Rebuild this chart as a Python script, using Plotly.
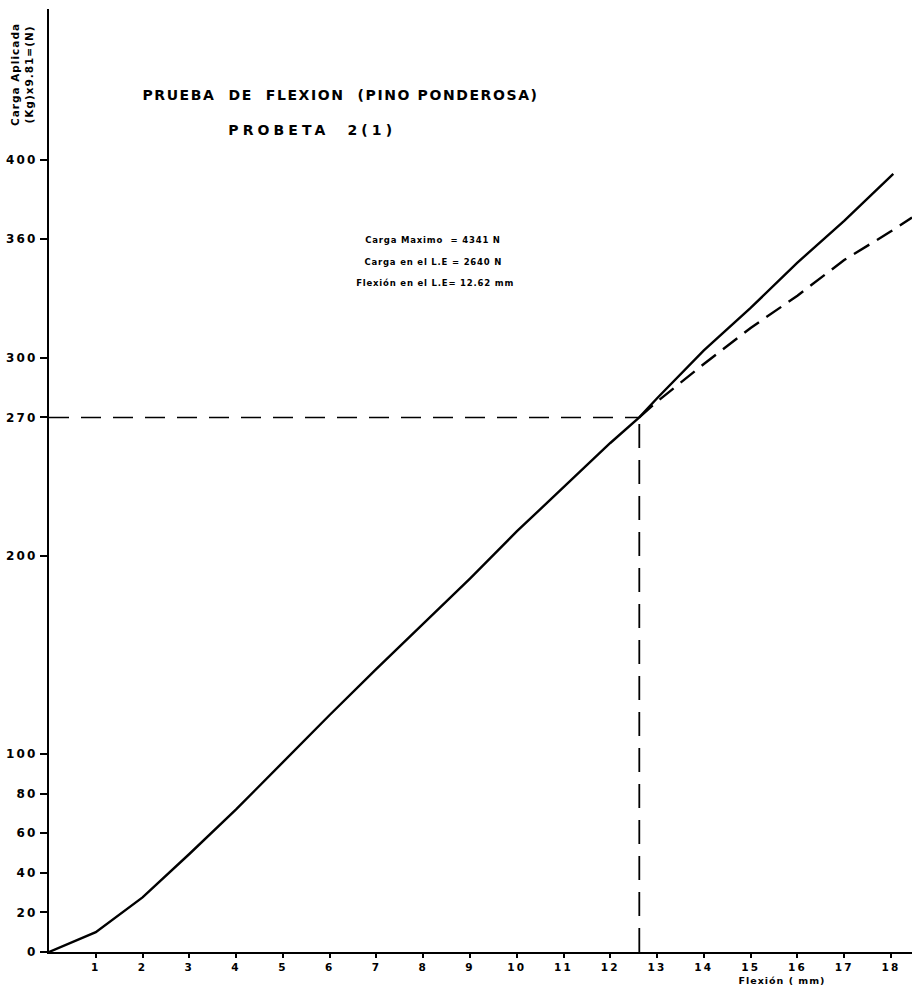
import plotly.graph_objects as go

# ---------------- data ----------------
flex_solid = [0, 1, 2, 3, 4, 5, 6, 7, 8, 9, 10, 11, 12, 12.62, 13, 14, 15, 16, 17, 18.05]
load_solid = [0, 10, 27.6, 49.5, 72, 96, 119.7, 143, 165.7, 188.6, 212.4, 235, 257.1, 270,
              279.7, 303.9, 325.3, 348.2, 369.3, 393]

flex_dash = [12.62, 13, 14, 15, 16, 17, 18, 18.45]
load_dash = [270, 278, 297, 315.2, 331.5, 349.5, 364, 371]

yield_flex = 12.62   # Flexión en el L.E (mm)
yield_load = 270     # carga en el L.E (Kg)

x_ticks = list(range(1, 19))
y_ticks = [0, 20, 40, 60, 80, 100, 200, 270, 300, 360, 400]

title_1 = "PRUEBA\u00a0\u00a0DE\u00a0\u00a0FLEXION\u00a0\u00a0(PINO PONDEROSA)"
title_2 = "PROBETA\u00a0\u00a02(1)"
notes = ["Carga Maximo\u00a0\u00a0= 4341 N",
         "Carga en el L.E = 2640 N",
         "Flexión en el L.E= 12.62 mm"]
y_title = "Carga Aplicada<br>(Kg)x9.81=(N)"
x_title = "Flexión ( mm)"

# ---------------- figure ----------------
W, H = 912, 988
ML, MR, MT, MB = 49, 0, 9, 36
PW, PH = W - ML - MR, H - MT - MB
X_RANGE = [0, 18.45]
Y_RANGE = [0, 476.3]

def px(x):  # pixel -> paper x
    return (x - ML) / PW

def py(y):  # pixel -> paper y
    return (H - MB - y) / PH

FONT = "DejaVu Sans"

fig = go.Figure()
fig.add_trace(go.Scatter(x=[0, yield_flex], y=[yield_load, yield_load], mode="lines",
                         line=dict(color="black", width=1.6, dash="20px,12px"),
                         hoverinfo="skip", showlegend=False))
fig.add_trace(go.Scatter(x=[yield_flex, yield_flex], y=[0, yield_load], mode="lines",
                         line=dict(color="black", width=1.8, dash="24px,12px"),
                         hoverinfo="skip", showlegend=False))
fig.add_trace(go.Scatter(x=flex_dash, y=load_dash, mode="lines",
                         line=dict(color="black", width=2.4, dash="18px,9px"),
                         showlegend=False))
fig.add_trace(go.Scatter(x=flex_solid, y=load_solid, mode="lines",
                         line=dict(color="black", width=2.4),
                         showlegend=False))

annotations = [
    dict(text=title_1, x=px(340), y=py(95), xanchor="center", yanchor="middle",
         font=dict(family=FONT, size=14, color="black", weight="bold")),
    dict(text=title_2, x=px(312), y=py(130), xanchor="center", yanchor="middle",
         font=dict(family=FONT, size=14, color="black", weight="bold")),
    dict(text=y_title, x=px(22), y=py(75), xanchor="center", yanchor="middle",
         textangle=-90,
         font=dict(family=FONT, size=10.5, color="black", weight="bold")),
    dict(text=x_title, x=px(782), y=py(980), xanchor="center", yanchor="middle",
         font=dict(family=FONT, size=9.5, color="black", weight="bold")),
]
for t, yy, xx in zip(notes, [240, 262, 283], [433, 433, 435]):
    annotations.append(dict(text=t, x=px(xx), y=py(yy), xanchor="center", yanchor="middle",
                            font=dict(family=FONT, size=8.5, color="black", weight="bold")))
for a in annotations:
    a.update(xref="paper", yref="paper", showarrow=False)

fig.update_layout(
    width=W, height=H,
    margin=dict(l=ML, r=MR, t=MT, b=MB, pad=0),
    paper_bgcolor="white", plot_bgcolor="white",
    annotations=annotations,
    xaxis=dict(range=X_RANGE, tickvals=x_ticks, ticktext=[str(v) for v in x_ticks],
               showgrid=False, zeroline=False, showline=True, linecolor="black",
               linewidth=2, ticks="outside", ticklen=4, tickwidth=1.5, tickcolor="black",
               tickfont=dict(family=FONT, size=10.5, color="black", weight="bold")),
    yaxis=dict(range=Y_RANGE, tickvals=y_ticks, ticktext=[str(v) for v in y_ticks],
               showgrid=False, zeroline=False, showline=True, linecolor="black",
               linewidth=2, ticks="outside", ticklen=7, tickwidth=1.5, tickcolor="black",
               tickfont=dict(family=FONT, size=12, color="black", weight="bold")),
    showlegend=False,
)

post_js = """
document.body.style.margin = '0';
document.body.style.padding = '0';
var gd = document.getElementById('{plot_id}');
function spacing(){
  gd.querySelectorAll('text').forEach(function(t){
    var s = t.textContent;
    if (s.indexOf('PRUEBA') === 0) t.style.letterSpacing = '1.6px';
    else if (s.indexOf('PROBETA') === 0) t.style.letterSpacing = '4.1px';
    else if (s.indexOf('Carga Aplicada') === 0 || s.indexOf('(Kg)') === 0) t.style.letterSpacing = '1px';
    else if (s.indexOf('Carga') === 0 || s.indexOf('Flexión en') === 0) t.style.letterSpacing = '0.8px';
    else if (s.indexOf('Flexión (') === 0) t.style.letterSpacing = '1px';
    else if (/^[0-9]+$/.test(s)) t.style.letterSpacing = '2.2px';
  });
}
spacing();
gd.on('plotly_afterplot', spacing);
"""

fig.write_html("out.html", post_script=post_js, config={"displayModeBar": False})
